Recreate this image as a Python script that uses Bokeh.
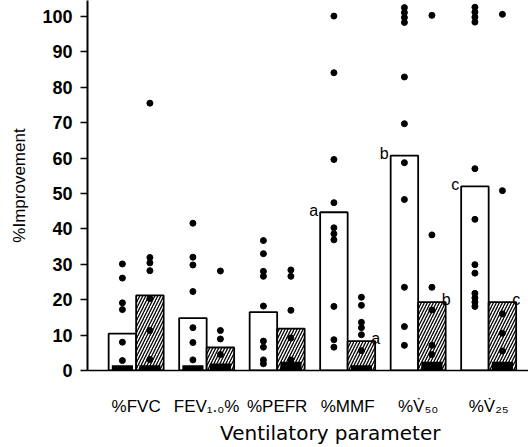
from bokeh.plotting import figure
from bokeh.models import FixedTicker, Range1d
from bokeh.core.properties import value
from bokeh.embed import file_html
from bokeh.resources import INLINE

# ---- data ----
categories = ["%FVC", "FEV\u2081.\u2080%", "%PEFR", "%MMF", "%V\u0307\u2085\u2080", "%V\u0307\u2082\u2085"]
open_mean = [10.4, 14.8, 16.5, 44.7, 60.7, 52.0]
hatch_mean = [21.2, 6.5, 11.8, 8.3, 19.3, 19.3]
open_zero_cluster = [1.5, 1.5, 0.0, 0.0, 0.0, 0.0]
hatch_zero_cluster = [1.5, 2.0, 2.5, 1.5, 2.5, 2.5]
open_sig = ["", "", "", "a", "b", "c"]
hatch_sig = ["", "", "", "a", "b", "c"]

open_points = [
    [30.1, 26.1, 19.1, 17.2, 8.0, 2.8],
    [41.6, 32.0, 29.8, 22.3, 12.1, 7.9, 3.0],
    [36.7, 33.0, 28.0, 26.6, 18.2, 8.3, 6.6, 3.0, 1.9],
    [100.1, 84.1, 59.6, 47.4, 40.3, 38.6, 36.9, 18.1, 8.7, 6.6],
    [102.5, 101.1, 99.7, 98.3, 82.9, 69.7, 58.7, 48.3, 23.5, 12.4, 7.1],
    [102.6, 101.2, 99.8, 98.4, 57.0, 42.7, 29.9, 27.5, 21.8, 20.5, 19.3, 18.1],
]
hatch_points = [
    [75.5, 31.9, 30.4, 28.2, 20.3, 11.3, 3.1],
    [28.1, 11.3, 8.9, 4.5],
    [28.4, 26.6, 17.0, 9.2, 3.0],
    [20.7, 18.4, 13.6, 12.1, 10.1, 5.6],
    [100.3, 38.3, 23.5, 17.1, 7.1, 4.5],
    [100.6, 50.8, 16.0, 10.5, 5.5],
]
y_ticks = list(range(0, 101, 10))

# ---- layout ----
idx = list(range(len(categories)))
off = 0.195
bw = 0.39
open_x = [i - off for i in idx]
hatch_x = [i + off for i in idx]

p = figure(width=528, height=447, output_backend="svg", toolbar_location=None,
           x_range=Range1d(-0.69, 5.565), y_range=Range1d(0, 104.5),
           min_border_left=87, min_border_right=0, min_border_top=0, min_border_bottom=77)
p.xgrid.visible = False
p.ygrid.visible = False
p.outline_line_color = None
p.background_fill_color = "white"

# bars
p.vbar(x=open_x, top=open_mean, bottom=0, width=bw, fill_color="white",
       line_color="black", line_width=1.8)
p.vbar(x=hatch_x, top=hatch_mean, bottom=0, width=bw, fill_color="white",
       line_color="black", line_width=1.8, hatch_pattern="/", hatch_color="black",
       hatch_scale=6, hatch_weight=1.3)

# clusters of values near zero
p.vbar(x=open_x, top=open_zero_cluster, bottom=0, width=0.3, fill_color="black", line_color=None)
p.vbar(x=hatch_x, top=hatch_zero_cluster, bottom=0, width=0.3, fill_color="black", line_color=None)

# individual points
px, py = [], []
for i in idx:
    for v in open_points[i]:
        px.append(open_x[i]); py.append(v)
    for v in hatch_points[i]:
        px.append(hatch_x[i]); py.append(v)
p.scatter(px, py, size=6, color="black")

# significance letters
p.text(x=[x - bw / 2 for x in open_x], y=open_mean, text=open_sig, text_align="right",
       text_baseline="middle", x_offset=-2, y_offset=-2, text_font=value("Liberation Sans"),
       text_font_size="16px", text_color="black")
p.text(x=[x + bw / 2 for x in hatch_x], y=hatch_mean, text=hatch_sig, text_align="left",
       text_baseline="alphabetic", x_offset=-4, y_offset=-3, text_font=value("Liberation Sans"),
       text_font_size="16px", text_color="black")

# axes
p.yaxis.ticker = FixedTicker(ticks=y_ticks)
p.yaxis.axis_line_width = 2
p.yaxis.major_tick_line_width = 1.5
p.yaxis.major_tick_out = 7
p.yaxis.major_tick_in = 0
p.yaxis.minor_tick_line_color = None
p.yaxis.major_label_standoff = 8
p.yaxis.major_label_text_font = "Liberation Sans"
p.yaxis.major_label_text_font_style = "bold"
p.yaxis.major_label_text_font_size = "18px"
p.yaxis.major_label_text_color = "black"
p.yaxis.axis_label = "%Improvement"
p.yaxis.axis_label_text_font = "Liberation Sans"
p.yaxis.axis_label_text_font_style = "normal"
p.yaxis.axis_label_text_font_size = "17px"
p.yaxis.axis_label_text_color = "black"
p.yaxis.axis_label_standoff = 10

p.xaxis.ticker = FixedTicker(ticks=idx)
p.xaxis.major_label_overrides = {i: categories[i] for i in idx}
p.xaxis.axis_line_width = 1.5
p.xaxis.major_tick_line_color = None
p.xaxis.minor_tick_line_color = None
p.xaxis.major_label_standoff = 20
p.xaxis.major_label_text_font = "Liberation Sans"
p.xaxis.major_label_text_font_size = "17px"
p.xaxis.major_label_text_color = "black"
# leading no-break spaces shift the centred label to the right like in the reference
p.xaxis.axis_label = "\u00a0" * 7 + "Ventilatory parameter"
p.xaxis.axis_label_text_font = "DejaVu Sans"
p.xaxis.axis_label_text_font_style = "normal"
p.xaxis.axis_label_text_font_size = "20px"
p.xaxis.axis_label_text_color = "black"
p.xaxis.axis_label_standoff = 2

open("out.html", "w").write(file_html(p, INLINE))
